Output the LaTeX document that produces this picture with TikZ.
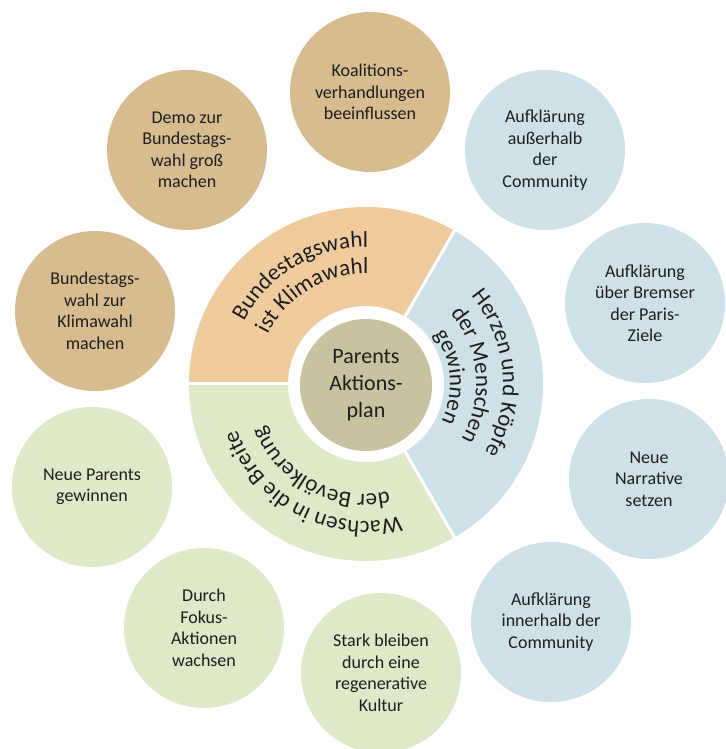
\documentclass[tikz,border=0pt]{standalone}
\usepackage{fontspec}
\setmainfont{Carlito}
\usetikzlibrary{decorations.text}
\definecolor{tanc}{RGB}{216,187,142}
\definecolor{orseg}{RGB}{240,203,158}
\definecolor{blueseg}{RGB}{206,225,233}
\definecolor{greenseg}{RGB}{223,232,199}
\definecolor{centc}{RGB}{200,195,158}
\definecolor{txt}{RGB}{30,30,30}
\newcommand\segfont{\fontsize{23}{23}\selectfont\color{txt}}
\begin{document}
\begin{tikzpicture}[x=1pt,y=1pt,
  bub/.style={circle, minimum size=160pt, inner sep=0pt, align=center, text=txt,
              font=\fontsize{18}{21.5}\selectfont},
  segline/.style={decorate, decoration={text along path, text align=center, text={|\segfont|#1}}},
  sep/.style={white, line width=3pt}]
\useasboundingbox (0,0) rectangle (725,749);
\fill[white] (0,0) rectangle (725,749);

% ring segments
\fill[orseg, shift={(366,365)}] (60:78) -- (60:177) arc[start angle=60,end angle=180,radius=177]
   -- (180:78) arc[start angle=180,end angle=60,radius=78] -- cycle;
\fill[blueseg, shift={(366,365)}] (-60:78) -- (-60:177) arc[start angle=-60,end angle=60,radius=177]
   -- (60:78) arc[start angle=60,end angle=-60,radius=78] -- cycle;
\fill[greenseg, shift={(366,365)}] (180:78) -- (180:177) arc[start angle=180,end angle=300,radius=177]
   -- (300:78) arc[start angle=300,end angle=180,radius=78] -- cycle;
\draw[sep, shift={(366,365)}] (60:74) -- (60:181);
\draw[sep, shift={(366,365)}] (180:74) -- (180:181);
\draw[sep, shift={(366,365)}] (300:74) -- (300:181);

% curved segment texts
\path[segline={Bundestagswahl}, shift={(366,365)}] (181:137) arc[start angle=181,end angle=61,radius=137];
\path[segline={ist Klimawahl}, shift={(366,365)}] (181:110) arc[start angle=181,end angle=61,radius=110];
\path[segline={Herzen und Köpfe}, shift={(366,365)}] (65:137) arc[start angle=65,end angle=-55,radius=137];
\path[segline={der Menschen}, shift={(366,365)}] (65:110) arc[start angle=65,end angle=-55,radius=110];
\path[segline={gewinnen}, shift={(366,365)}] (65:84) arc[start angle=65,end angle=-55,radius=84];
\path[segline={Wachsen in die Breite}, shift={(366,365)}] (302:137) arc[start angle=302,end angle=182,radius=137];
\path[segline={der Bevölkerung}, shift={(366,365)}] (302:110) arc[start angle=302,end angle=182,radius=110];

% centre
\node[circle, fill=centc, minimum size=132pt, inner sep=0pt, align=center, text=txt,
      font=\fontsize{22}{27}\selectfont] (center) at (366,364) {Parents\\Aktions-\\plan};

% outer bubbles
\node[bub, fill=tanc] (koal) at (370,657) {Koalitions-\\verhandlungen\\beeinflussen};
\node[bub, fill=tanc] (demo) at (187,599) {Demo zur\\Bundestags-\\wahl groß\\machen};
\node[bub, fill=tanc] (btw) at (95,438) {Bundestags-\\wahl zur\\Klimawahl\\machen};
\node[bub, fill=blueseg] (aauss) at (545,599) {Aufklärung\\außerhalb\\der\\Community};
\node[bub, fill=blueseg] (abrem) at (645,446) {Aufklärung\\über Bremser\\der Paris-\\Ziele};
\node[bub, fill=blueseg] (narr) at (649,270) {Neue\\Narrative\\setzen};
\node[bub, fill=blueseg] (ainn) at (551,127) {Aufklärung\\innerhalb der\\Community};
\node[bub, fill=greenseg] (stark) at (381,76) {Stark bleiben\\durch eine\\regenerative\\Kultur};
\node[bub, fill=greenseg] (fokus) at (204,121) {Durch\\Fokus-\\Aktionen\\wachsen};
\node[bub, fill=greenseg] (neup) at (92,262) {Neue Parents\\gewinnen};
\end{tikzpicture}
\end{document}
